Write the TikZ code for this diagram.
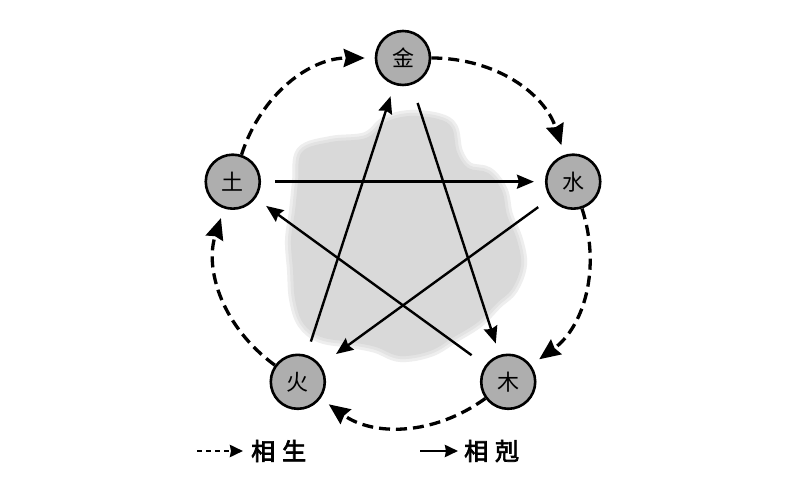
\documentclass[tikz,border=0pt]{standalone}
\usepackage{fontspec}
\newfontfamily\cjk{Noto Sans CJK SC}
\newfontfamily\cjkb[FakeBold=3]{Noto Sans CJK SC}
\usetikzlibrary{arrows.meta,calc}
\definecolor{circgray}{HTML}{AEAEAE}
\definecolor{blobgray}{HTML}{D9D9D9}
\definecolor{blobmid}{HTML}{E3E3E3}
\definecolor{blobedge}{HTML}{EEEEEE}
\begin{document}
\begin{tikzpicture}[x=1pt,y=1pt,
  el/.style={circle, draw=black, line width=2.6pt, fill=circgray, minimum size=54pt, inner sep=0pt, font=\cjk\fontsize{22}{22}\selectfont},
  ke/.style={line width=2.4pt, -{Stealth[length=17pt,width=14pt,inset=2pt]}},
  sheng/.style={line width=3.3pt, dash pattern=on 11pt off 6pt, -{Stealth[length=21pt,width=18pt,inset=2pt]}, bend left=36},
  legtext/.style={font=\cjkb\fontsize{24}{24}\selectfont, anchor=west, inner sep=0pt}]
\useasboundingbox (0,0) rectangle (800,500);
\fill[white] (0,0) rectangle (800,500);
% soft grey blob
\def\blobpath{plot[smooth cycle, tension=0.6] coordinates {(302,348) (331,358) (366,362) (386,378) (410,384) (438,381) (452,372) (457,348) (468,332) (488,327) (502,309) (507,285) (517,260) (521,235) (512,211) (497,197) (478,178) (454,163) (430,149) (400,144) (376,153) (351,158) (321,163) (303,177) (295,201) (293,230) (291,260) (295,289) (298,318)}}
\draw[blobedge, fill=blobedge, line width=12pt, line join=round] \blobpath;
\draw[blobmid, fill=blobmid, line width=6pt, line join=round] \blobpath;
\fill[blobgray] \blobpath;
\coordinate (C) at (403,263);
\path (C) ++(90:179) node[el] (jin) {金};
\path (C) ++(18:179) node[el] (shui) {水};
\path (C) ++(-54:179) node[el] (mu) {木};
\path (C) ++(-126:179) node[el] (huo) {火};
\path (C) ++(162:179) node[el] (tu) {土};
% ke (solid)
\draw[ke, shorten <=14pt, shorten >=11pt] (tu) -- (shui);
\draw[ke, shorten <=14pt, shorten >=12pt] (huo) -- (jin);
\draw[ke, shorten <=19pt, shorten >=12pt] (jin) -- (mu);
\draw[ke, shorten <=15pt, shorten >=19pt] (shui) -- (huo);
\draw[ke, shorten <=17pt, shorten >=13pt] (mu) -- (tu);
% sheng (dashed)
\draw[sheng, shorten <=0pt, shorten >=10pt] (tu) to (jin);
\draw[sheng, shorten <=0pt, shorten >=10pt] (jin) to (shui);
\draw[sheng, shorten <=0pt, shorten >=10pt] (shui) to (mu);
\draw[sheng, shorten <=0pt, shorten >=10pt] (mu) to (huo);
\draw[sheng, shorten <=0pt, shorten >=10pt] (huo) to (tu);
% legend
\coordinate (l1s) at (197,49);
\coordinate (l1e) at (243,49);
\draw[line width=2.8pt, dash pattern=on 5pt off 4pt, -{Stealth[length=13pt,width=12pt,inset=1pt]}] (l1s) -- (l1e);
\node[legtext] (t1) at (251,49) {相\hspace{7pt}生};
\coordinate (l2s) at (420,49);
\coordinate (l2e) at (458,49);
\draw[line width=2.8pt, -{Stealth[length=13pt,width=12pt,inset=1pt]}] (l2s) -- (l2e);
\node[legtext] (t2) at (464,49) {相\hspace{7pt}剋};
\end{tikzpicture}
\end{document}
